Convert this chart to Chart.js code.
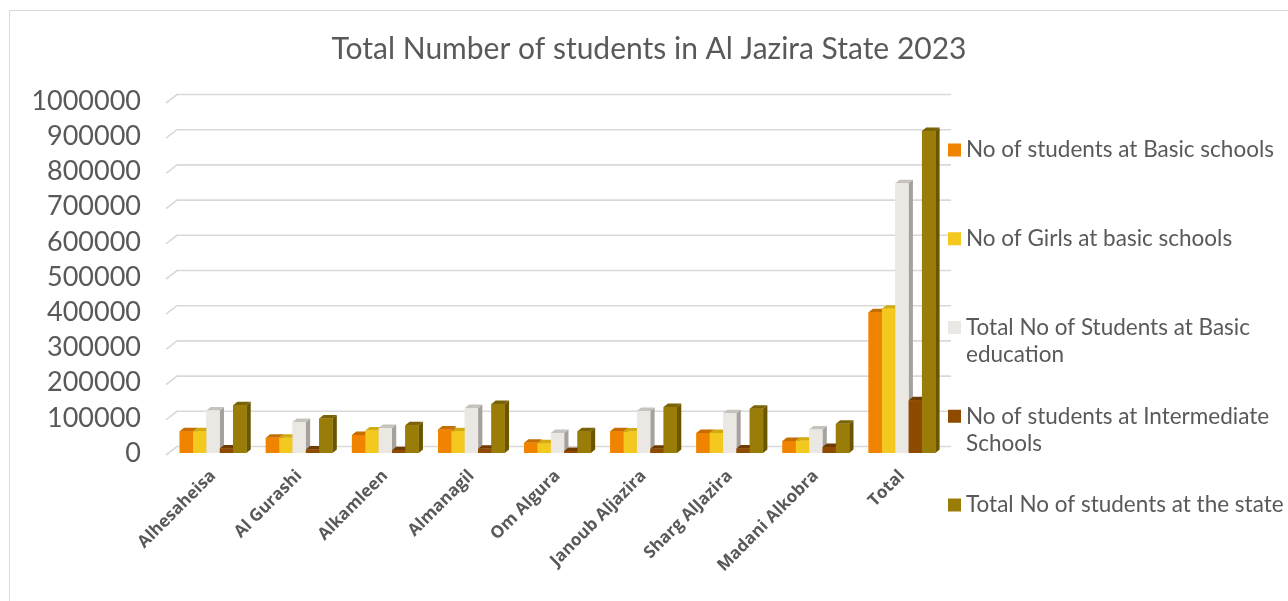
<!DOCTYPE html>
<html>
<head>
<meta charset="utf-8">
<title>Total Number of students in Al Jazira State 2023</title>
<script src="https://cdn.jsdelivr.net/npm/chart.js"></script>
<style>
    html, body { margin: 0; padding: 0; background: #ffffff; overflow: hidden; }
    #marco { position: absolute; left: 9px; top: 10px; width: 1400px; height: 700px; border: 1px solid #d9d9d9; }
    #contenedor { position: absolute; left: 0; top: 0; width: 1288px; height: 601px; }
</style>
</head>
<body>
<div id="marco"></div>
<div id="contenedor"><canvas id="myChart"></canvas></div>
<script>
// datos
const categorias = ["Alhesaheisa", "Al Gurashi", "Alkamleen", "Almanagil", "Om Algura", "Janoub Aljazira", "Sharg AlJazira", "Madani Alkobra", "Total"];
const alumnosBasica = [62000, 43000, 51000, 67000, 29000, 62000, 57000, 34000, 400000];
const ninasBasica = [62000, 43000, 64000, 62000, 28000, 61000, 57000, 35000, 410000];
const totalBasica = [121000, 88000, 71000, 128000, 57000, 119000, 113000, 67000, 766000];
const alumnosIntermedia = [13000, 10000, 8000, 12000, 6000, 12000, 13000, 17000, 150000];
const totalEstado = [136000, 98000, 79000, 139000, 62000, 131000, 126000, 83000, 915000];

const etiquetasSeries = [
    ["No of students at Basic schools"],
    ["No of Girls at basic schools"],
    ["Total No of Students at Basic", "education"],
    ["No of students at Intermediate", "Schools"],
    ["Total No of students at the state"]
];
const titulo = "Total Number of students in Al Jazira State 2023";
const ejeYMin = 0;
const ejeYMax = 1000000;
const ejeYPaso = 100000;

const colorTexto = "#595959";
const fondo = 3.5; // profundidad de las barras 3d

function crearSerie(indice, valores, frente, lateral, tapa) {
    return {
        label: etiquetasSeries[indice].join(" "),
        lineas: etiquetasSeries[indice],
        data: valores,
        backgroundColor: frente,
        colorLateral: lateral,
        colorTapa: tapa,
        borderWidth: 0,
        categoryPercentage: 0.775,
        barPercentage: 1.0
    };
}

// rejilla con perspectiva (pared del fondo)
const rejilla3d = {
    id: "rejilla3d",
    beforeDatasetsDraw(chart) {
        const ctx = chart.ctx;
        const area = chart.chartArea;
        const escala = chart.scales.y;
        ctx.save();
        ctx.strokeStyle = "#d9d9d9";
        ctx.lineWidth = 1.6;
        escala.ticks.forEach((tick) => {
            const py = escala.getPixelForValue(tick.value) + 2;
            ctx.beginPath();
            ctx.moveTo(area.left - 4, py);
            ctx.lineTo(area.left + 7, py - 8.5);
            ctx.lineTo(area.right + 6, py - 8.5);
            ctx.stroke();
        });
        ctx.restore();
    }
};

// caras lateral y superior de cada barra
const barras3d = {
    id: "barras3d",
    afterDatasetsDraw(chart) {
        const ctx = chart.ctx;
        ctx.save();
        for (let j = 0; j < chart.data.labels.length; j++) {
            chart.data.datasets.forEach((serie, i) => {
                const barra = chart.getDatasetMeta(i).data[j];
                const izq = barra.x - barra.width / 2;
                const der = barra.x + barra.width / 2;
                const dx = fondo + 0.8;
                const dy = fondo;

                ctx.fillStyle = serie.colorLateral;
                ctx.beginPath();
                ctx.moveTo(der, barra.y);
                ctx.lineTo(der + dx, barra.y - dy);
                ctx.lineTo(der + dx, barra.base - dy);
                ctx.lineTo(der, barra.base);
                ctx.closePath();
                ctx.fill();

                ctx.fillStyle = serie.colorTapa;
                ctx.beginPath();
                ctx.moveTo(izq, barra.y);
                ctx.lineTo(izq + dx, barra.y - dy);
                ctx.lineTo(der + dx, barra.y - dy);
                ctx.lineTo(der, barra.y);
                ctx.closePath();
                ctx.fill();

                ctx.fillStyle = serie.backgroundColor;
                ctx.fillRect(izq, barra.y, barra.width, barra.base - barra.y);
            });
        }
        ctx.restore();
    }
};

// titulo y leyenda a la derecha
const textosExtra = {
    id: "textosExtra",
    afterDraw(chart) {
        const ctx = chart.ctx;
        const area = chart.chartArea;
        ctx.save();
        ctx.fillStyle = colorTexto;
        ctx.font = "30px Lato";
        ctx.textAlign = "center";
        ctx.textBaseline = "middle";
        ctx.fillText(titulo, 649, 49);

        ctx.font = "22.5px Lato";
        ctx.textAlign = "left";
        chart.data.datasets.forEach((serie, i) => {
            const yItem = area.top + 49 + i * 88.75;
            ctx.fillStyle = serie.backgroundColor;
            ctx.fillRect(area.right + 3, yItem - 6.5, 13, 13);
            ctx.fillStyle = colorTexto;
            serie.lineas.forEach((linea, k) => {
                ctx.fillText(linea, area.right + 21, yItem + k * 27);
            });
        });
        ctx.restore();
    }
};

function cargarGrafico() {
    const datasets = [
        crearSerie(0, alumnosBasica, "#f08400", "#b66300", "#c66d00"),
        crearSerie(1, ninasBasica, "#f3c81f", "#c9a414", "#d2aa12"),
        crearSerie(2, totalBasica, "#ebe8e3", "#a5a29e", "#c6c3be"),
        crearSerie(3, alumnosIntermedia, "#8e4b00", "#6a3800", "#703b00"),
        crearSerie(4, totalEstado, "#9a7d09", "#6b5600", "#7a6306")
    ];

    const config = {
        type: "bar",
        data: { labels: categorias, datasets },
        options: {
            responsive: true,
            maintainAspectRatio: false,
            animation: false,
            layout: { padding: { left: 0, right: 343, top: 101, bottom: 0 } },
            plugins: {
                legend: { display: false },
                tooltip: { enabled: false },
                title: { display: false }
            },
            scales: {
                x: {
                    grid: { display: false },
                    border: { display: false },
                    afterFit: (escala) => { escala.height = 148; },
                    ticks: {
                        color: colorTexto,
                        font: { family: "Open Sans", size: 17, weight: "bold" },
                        minRotation: 45,
                        maxRotation: 45,
                        autoSkip: false,
                        padding: 5
                    }
                },
                y: {
                    min: ejeYMin,
                    max: ejeYMax,
                    grid: { display: false, drawTicks: false },
                    border: { display: false },
                    afterFit: (escala) => { escala.width = 170; },
                    ticks: {
                        stepSize: ejeYPaso,
                        autoSkip: false,
                        color: colorTexto,
                        font: { family: "Lato", size: 27 },
                        padding: 29,
                        callback: (valor) => String(valor)
                    }
                }
            }
        },
        plugins: [rejilla3d, barras3d, textosExtra]
    };

    const myChart = document.getElementById("myChart");
    new Chart(myChart, config);
}

cargarGrafico();
</script>
</body>
</html>
